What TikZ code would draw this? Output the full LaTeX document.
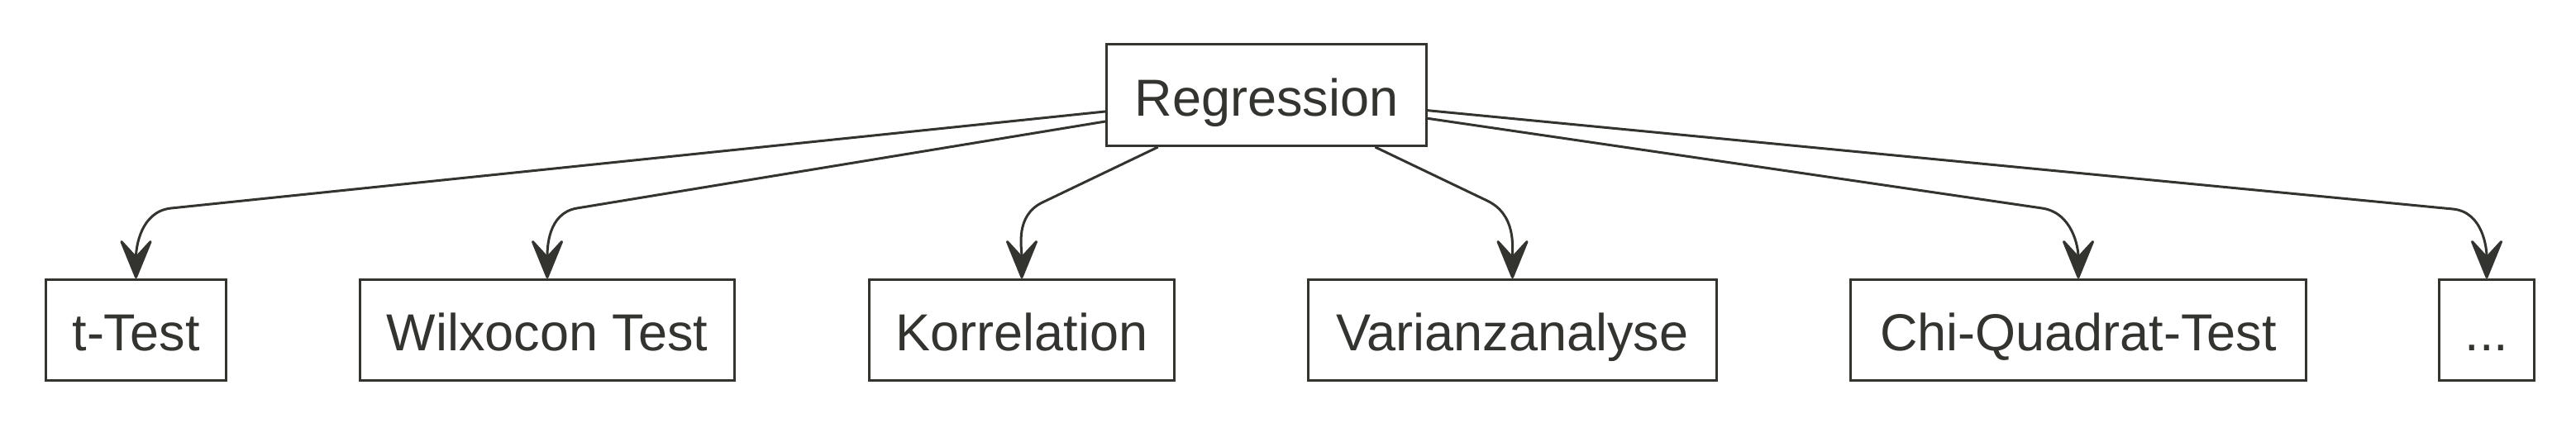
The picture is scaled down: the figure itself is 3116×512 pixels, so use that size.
\documentclass[tikz,border=0pt]{standalone}
\usepackage{fontspec}
\setmainfont{Liberation Sans}
\usetikzlibrary{arrows.meta}
\definecolor{ink}{HTML}{333330}
\begin{document}
\begin{tikzpicture}[x=0.5pt,y=0.5pt,
  box/.style={draw=ink, line width=1.6pt, fill=white, text=ink, inner sep=0pt,
    minimum height=60.9pt, font=\fontsize{31.5pt}{38pt}\selectfont,
    text height=25.5pt, text depth=0pt},
  edge/.style={draw=ink, line width=1.5pt, line join=round,
    -{Stealth[length=27pt,width=22pt,inset=12pt,round]}}]
\fill[white] (0,0) rectangle (3116,-512);
\useasboundingbox (0,0) rectangle (3116,-512);
\node[box, minimum width=193.4pt, minimum height=61.4pt] (reg) at (1532,-115) {Regression};
\node[box, minimum width=108.9pt] (t) at (164.5,-399.5) {t-Test};
\node[box, minimum width=226.4pt] (w) at (662,-399.5) {Wilxocon Test};
\node[box, minimum width=184.4pt] (k) at (1236,-399.5) {Korrelation};
\node[box, minimum width=246.9pt] (v) at (1829.5,-399.5) {Varianzanalyse};
\node[box, minimum width=275.4pt] (c) at (2514,-399.5) {Chi-Quadrat-Test};
\node[box, minimum width=57.4pt] (d) at (3008,-399.5) {...};
\coordinate (bt) at (207,-252);
\coordinate (bw) at (698,-252);
\coordinate (bk) at (1261,-245);
\coordinate (bv) at (1799,-243);
\coordinate (bc) at (2470,-252);
\coordinate (bd) at (2967,-253);
\draw[edge] (reg) -- (bt) to[out=185.9,in=90] (t.north);
\draw[edge] (reg) -- (bw) to[out=189.3,in=90] (w.north);
\draw[edge] (reg) -- (bk) to[out=205.6,in=90] (k.north);
\draw[edge] (reg) -- (bv) to[out=-25.6,in=90] (v.north);
\draw[edge] (reg) -- (bc) to[out=-8.3,in=90] (c.north);
\draw[edge] (reg) -- (bd) to[out=-5.5,in=90] (d.north);
\end{tikzpicture}
\end{document}
